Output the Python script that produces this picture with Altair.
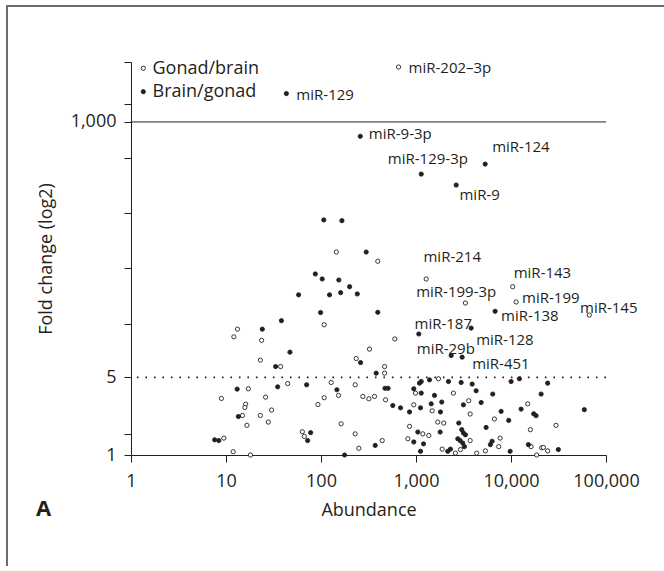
import altair as alt
import pandas as pd

# ---------------- data ----------------
groups = ["Gonad/brain", "Brain/gonad"]

gb_abundance = [9.5, 11.9, 18.1, 8.95, 17.2, 12.1, 13.2, 23.7, 23.0, 37.6, 44.6, 26.1,
                16.1, 15.8, 30.2, 14.9, 23.0, 27.9, 16.6, 63.6, 66.7, 108, 92.8, 108,
                128, 655, 145, 396, 1280, 3315, 10420, 11320, 66700, 598, 324, 235,
                467, 467, 229, 153, 276, 319, 366, 478, 948, 988, 1725, 2478, 1480,
                3590, 3715, 15000, 6690, 1695, 1960, 855, 1180, 1364, 16000, 29790,
                441, 820, 3715, 7680, 7430, 16260, 21040, 21920, 24320, 1887, 2603,
                2937, 4355, 5380, 18620, 163, 229, 250]
gb_fold = [1.42, 1.07, 1.0, 3.23, 3.95, 11.6, 13.6, 10.8, 7.15, 6.26, 4.40, 3.32,
           2.87, 2.68, 2.54, 2.27, 2.27, 1.98, 1.85, 1.62, 1.47, 14.9, 2.85, 3.28,
           4.50, 3125, 67.3, 55.6, 38.5, 23.4, 32.8, 23.9, 18.2, 11.1, 8.98, 7.39,
           6.26, 5.46, 4.29, 3.44, 3.37, 3.21, 3.37, 3.14, 2.83, 3.61, 4.86, 3.61, 2.50,
           3.08, 2.34, 2.89, 2.11, 1.98, 1.94, 1.81, 1.55, 1.50, 1.69, 1.85,
           1.35, 1.40, 1.35, 1.42, 1.19, 1.19, 1.16, 1.17, 1.09, 1.13, 1.04,
           1.12, 1.04, 1.09, 1.0, 1.91, 1.55, 1.15]

bg_abundance = [7.6, 8.4, 13.1, 24.1, 38.3, 47.1, 33.3, 35.0, 13.5, 77.8, 72.3, 58.1,
                87.1, 103, 123, 99, 70.6, 107, 166, 43.2, 259, 1135, 5345, 2648, 299,
                154, 161, 200, 241, 6805, 396, 1070, 3805, 261, 2345, 3060, 381, 147,
                472, 508, 570, 687, 855, 1115, 948, 1135, 1387, 1088, 1135, 2197, 2987,
                3900, 10020, 12250, 24320, 1565, 4295, 6425, 20750, 1445, 1867, 1810,
                3157, 4850, 7870, 12770, 17330, 18370, 9460, 2820, 1045, 1796, 3030,
                3157, 3315, 5470, 948, 1200, 2754, 2915, 3105, 6325, 6070, 15240,
                31500, 1115, 2305, 2160, 3236, 9790, 59100, 372, 177]
bg_fold = [1.37, 1.35, 3.92, 13.6, 16.2, 8.44, 6.26, 4.11, 2.22, 1.59, 1.35, 27.7,
           42.7, 38.5, 27.7, 19.2, 4.29, 131, 129, 1800, 743, 339, 417, 270, 67.3,
           37.7, 29.0, 32.8, 28.2, 19.7, 19.3, 12.3, 13.9, 6.80, 7.87, 7.61, 5.46, 3.87,
           3.99, 3.99, 2.79, 2.66, 2.44, 2.66, 3.95, 3.61, 4.75, 4.44, 4.59, 4.59, 4.50,
           4.35, 4.59, 4.86, 4.44, 3.44, 3.79, 3.54, 3.54, 2.89, 3.00, 2.44,
           2.83, 2.97, 2.47, 2.59, 2.35, 2.26, 2.05, 1.94, 1.61, 1.61, 1.69,
           1.58, 1.52, 1.77, 1.31, 1.26, 1.40, 1.35, 1.28, 1.33, 1.24, 1.24,
           1.12, 1.08, 1.13, 1.08, 1.19, 1.08, 2.56, 1.22, 1.0]

ann_names = ["miR-202–3p", "miR-129", "miR-9-3p", "miR-124", "miR-129-3p", "miR-9",
             "miR-214", "miR-143", "miR-199-3p", "miR-199", "miR-145", "miR-138",
             "miR-187", "miR-128", "miR-29b", "miR-451"]
ann_abundance = [655, 43.2, 259, 5345, 1135, 2648, 1280, 10420, 3315, 11320, 66700,
                 6805, 1070, 3805, 2345, 3060]
ann_fold = [3125, 1800, 743, 417, 339, 270, 38.5, 32.8, 23.4, 23.9, 18.2, 19.7,
            12.3, 13.9, 7.87, 7.61]

reference_levels = [1000, 5]
x_ticks = [1, 10, 100, 1000, 10000, 100000]
y_ticks = [1, 1.53, 5, 15.2, 48, 150, 469, 1000, 1464, 3467]

label_offsets = [(10, 1), (10, 1), (8.6, -2.3), (7, -17), (-33.4, -14.7), (3.3, 10),
                 (-2.7, -22.3), (1, -14), (-49.3, -11), (6, -4.3), (-9.3, -7), (6, 4.7),
                 (-4.3, -9.7), (5, 11.7), (-34.4, -6.4), (10, 6.4)]

FONT = "Open Sans"
INK = "#231f20"
W, H = 475, 393

df = pd.concat([
    pd.DataFrame({"abundance": gb_abundance, "fold": gb_fold, "group": groups[0]}),
    pd.DataFrame({"abundance": bg_abundance, "fold": bg_fold, "group": groups[1]}),
], ignore_index=True)

xscale = alt.Scale(type="log", domain=[1, 100000], nice=False)
yscale = alt.Scale(type="log", domain=[1, 3467], nice=False)
fill_scale = alt.Scale(domain=groups, range=["white", INK])

x_enc = alt.X("abundance:Q", scale=xscale,
              axis=alt.Axis(values=x_ticks, labelExpr="format(datum.value, ',')",
                            title="Abundance", labelPadding=10, titleY=55.5,
                            titleBaseline="middle", labelFlush=False, labelOverlap=False))
y_enc = alt.Y("fold:Q", scale=yscale,
              axis=alt.Axis(values=y_ticks,
                            labelExpr="(datum.value == 1 || datum.value == 5 || datum.value == 1000) ? format(datum.value, ',') : ''",
                            title="Fold change (log2)", labelPadding=8,
                            titleX=-84.5, titleY=H / 2, titleBaseline="middle",
                            labelFlush=False, labelOverlap=False))

layers = []

# figure frame drawn as thin filled bars (top and left edges)
frame_dark = "#6b6b6b"
layers.append(alt.Chart(pd.DataFrame({"k": [0]})).mark_rect(color=frame_dark, strokeWidth=0).encode(
    x=alt.value(-125), x2=alt.value(533), y=alt.value(-57), y2=alt.value(-55)))
layers.append(alt.Chart(pd.DataFrame({"k": [0]})).mark_rect(color=frame_dark, strokeWidth=0).encode(
    x=alt.value(-125), x2=alt.value(-123), y=alt.value(-57), y2=alt.value(504)))

layers.append(alt.Chart(pd.DataFrame({"fold": [reference_levels[0]]})).mark_rule(
    color=INK, strokeWidth=1).encode(y=y_enc))
layers.append(alt.Chart(pd.DataFrame({"fold": [reference_levels[1]]})).mark_rule(
    color=INK, strokeWidth=1.6, strokeDash=[1.6, 6.9]).encode(y=y_enc))

layers.append(alt.Chart(df).mark_circle(size=18, stroke=INK, strokeWidth=0.9, opacity=1).encode(
    x=x_enc, y=y_enc, fill=alt.Fill("group:N", scale=fill_scale, legend=None)))

for name, ax, ay, (ddx, ddy) in zip(ann_names, ann_abundance, ann_fold, label_offsets):
    layers.append(alt.Chart(pd.DataFrame({"abundance": [ax], "fold": [ay], "name": [name]})).mark_text(
        font=FONT, fontSize=15, color=INK, align="left", baseline="middle", dx=ddx, dy=ddy).encode(
        x=x_enc, y=y_enc, text="name:N"))

for i, g in enumerate(groups):
    ly = 6.3 + 23.4 * i
    gdf = pd.DataFrame({"group": [g]})
    layers.append(alt.Chart(gdf).mark_circle(size=18, stroke=INK, strokeWidth=0.9, opacity=1).encode(
        x=alt.value(12.3), y=alt.value(ly), fill=alt.Fill("group:N", scale=fill_scale, legend=None)))
    layers.append(alt.Chart(gdf).mark_text(font=FONT, fontSize=18, color=INK, align="left",
                                           baseline="middle").encode(
        x=alt.value(21.5), y=alt.value(ly + 0.5), text="group:N"))

layers.append(alt.Chart(pd.DataFrame({"t": ["A"]})).mark_text(
    font=FONT, fontSize=22, fontWeight="bold", color=INK, align="center", baseline="middle").encode(
    x=alt.value(-87.5), y=alt.value(447), text="t:N"))

chart = alt.layer(*layers).properties(
    width=W, height=H,
    autosize=alt.AutoSizeParams(type="none"),
    padding={"left": 131, "top": 62, "right": 58, "bottom": 111},
    background="white",
).configure_axis(
    domainColor=INK, tickColor=INK, labelColor=INK, titleColor=INK,
    labelFont=FONT, titleFont=FONT, labelFontSize=18, titleFontSize=18,
    titleFontWeight="normal", tickSize=7, grid=False, domainWidth=1, tickWidth=1,
).configure_view(stroke=None)

chart.save("out.html", embed_options={"renderer": "svg", "actions": False})
